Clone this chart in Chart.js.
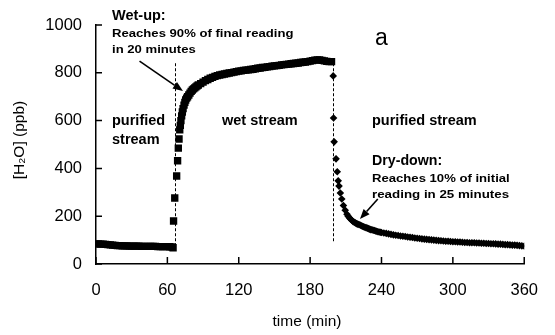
<!DOCTYPE html>
<html>
<head>
<meta charset="utf-8">
<script src="https://cdn.jsdelivr.net/npm/chart.js@4.4.0/dist/chart.umd.min.js"></script>
<style>
  html, body { margin: 0; padding: 0; background: #fff; }
  canvas { display: block; }
</style>
</head>
<body>
<canvas id="chart" width="555" height="335"></canvas>
<script>
// Wet-up run: time (min) and [H2O] (ppb), square markers
const wetTime = [0, 2, 4, 6, 8, 10, 12, 14, 16, 18, 20, 22, 24, 26, 28, 30, 32, 34, 36, 38,
  40, 42, 44, 46, 48, 50, 52, 54, 56, 58, 60, 62, 64, 64.8,
  65.2, 66.2, 67.8, 68.6, 69.2, 69.8, 70.4,
  70.9, 71.4, 72, 72.6, 73.2, 74, 74.7, 75.4, 76.2, 77, 78, 79, 80, 81, 82, 83, 84, 85, 86,
  88, 90, 92, 94, 96, 98, 100, 102, 104, 106, 108, 110, 112, 114, 116, 118, 120, 122, 124, 126,
  128, 130, 132, 134, 136, 138, 140, 142, 144, 146, 148, 150, 152, 154, 156, 158, 160, 162, 164, 166,
  168, 170, 172, 174, 176, 178, 180, 182, 184, 186, 188, 190, 192, 194, 196, 198];
const wetPpb = [84, 84, 83, 83, 82, 81, 80, 79, 78, 77, 77, 76, 76, 76, 75, 75, 75, 75, 75, 74,
  74, 74, 74, 74, 74, 74, 73, 73, 73, 73, 73, 72, 71, 68,
  180, 276, 368, 432, 485, 523, 561,
  580, 600, 620, 636, 650, 665, 676, 686, 694, 700, 707, 715, 722, 728, 733, 737, 741, 745, 749,
  755, 761, 767, 772, 777, 781, 785, 788, 791, 793, 795, 797, 799, 801, 803, 805, 807, 808, 810, 811,
  812, 814, 815, 817, 819, 820, 822, 823, 825, 826, 828, 829, 830, 831, 833, 834, 835, 836, 838, 839,
  840, 841, 843, 844, 845, 847, 849, 851, 853, 854, 854, 852, 850, 848, 847, 847];

// Dry-down run: diamond markers
const dryTime = [199.4, 199.7, 200.2, 201.8, 202.8, 203.6, 204.3, 205.4, 206.6, 208, 209.5, 211,
  212, 213, 214, 215, 216, 217, 218, 219, 220, 221, 222, 223, 224, 225, 226, 227, 228, 229, 230,
  231, 232, 233, 234, 235, 236, 237, 238, 239, 240,
  242, 244, 246, 248, 250, 252, 254, 256, 258, 260, 262, 264, 266, 268, 270, 272, 274, 276, 278, 280,
  282, 284, 286, 288, 290, 292, 294, 296, 298, 300, 302, 304, 306, 308, 310, 312, 314, 316, 318, 320,
  322, 324, 326, 328, 330, 332, 334, 336, 338, 340, 342, 344, 346, 348, 350, 352, 354, 356, 358, 360];
const dryPpb = [787, 611, 511, 440, 386, 348, 326, 297, 272, 245, 225, 208,
  200, 193, 188, 183, 178, 175, 172, 169, 167, 165, 163, 160, 158, 156, 154, 152, 150, 148, 146,
  144, 143, 141, 140, 138, 137, 135, 134, 133, 132,
  130, 128, 126, 124, 122, 120, 119, 117, 116, 115, 113, 112, 111, 109, 108, 107, 105, 104, 103, 102,
  101, 100, 99, 98, 97, 96, 95, 95, 94, 93, 93, 92, 92, 91, 90, 90, 89, 89, 89, 88,
  88, 87, 87, 86, 86, 85, 85, 84, 83, 83, 82, 81, 81, 80, 79, 79, 78, 77, 76, 75];

const xTicks = [0, 60, 120, 180, 240, 300, 360];
const yTicks = [0, 200, 400, 600, 800, 1000];

// gas switch-over times, drawn as dashed lines
const switchTime = [66.5, 199.4];
const switchTop = [840, 840];
const switchBottom = [75, 90];

function pts(xs, ys) {
  return xs.map((x, i) => ({x: x, y: ys[i]}));
}

const FONT = "'Liberation Sans', Arial, sans-serif";

function text(ctx, s, x, y, size, bold, sx) {
  ctx.save();
  ctx.font = (bold ? 'bold ' : '') + size + 'px ' + FONT;
  ctx.translate(x, y);
  ctx.scale(sx || 1, 1);
  ctx.fillText(s, 0, 0);
  ctx.restore();
}

function arrow(ctx, x1, y1, x2, y2) {
  const a = Math.atan2(y2 - y1, x2 - x1);
  const head = 10, w = 4;
  const bx = x2 - head * Math.cos(a), by = y2 - head * Math.sin(a);
  ctx.beginPath();
  ctx.moveTo(x1, y1);
  ctx.lineTo(bx, by);
  ctx.lineWidth = 1.6;
  ctx.stroke();
  ctx.beginPath();
  ctx.moveTo(x2, y2);
  ctx.lineTo(bx - w * Math.sin(a), by + w * Math.cos(a));
  ctx.lineTo(bx + w * Math.sin(a), by - w * Math.cos(a));
  ctx.closePath();
  ctx.fill();
}

const decor = {
  id: 'decor',
  beforeDatasetsDraw(chart) {
    const ctx = chart.ctx, xs = chart.scales.x, ys = chart.scales.y;
    ctx.save();
    ctx.strokeStyle = '#000';
    ctx.lineWidth = 1;
    ctx.setLineDash([3, 2]);
    switchTime.forEach((t, i) => {
      const x = Math.round(xs.getPixelForValue(t)) + 0.5;
      ctx.beginPath();
      ctx.moveTo(x, ys.getPixelForValue(switchTop[i]));
      ctx.lineTo(x, ys.getPixelForValue(switchBottom[i]));
      ctx.stroke();
    });
    ctx.restore();
  },
  afterDraw(chart) {
    const ctx = chart.ctx, xs = chart.scales.x, ys = chart.scales.y;
    const area = chart.chartArea;
    ctx.save();
    ctx.fillStyle = '#000';
    ctx.strokeStyle = '#000';

    // inside tick marks
    ctx.lineWidth = 1.5;
    ctx.beginPath();
    yTicks.forEach(v => {
      const y = ys.getPixelForValue(v);
      ctx.moveTo(area.left, y);
      ctx.lineTo(area.left + 6, y);
    });
    xTicks.forEach(v => {
      const x = xs.getPixelForValue(v);
      ctx.moveTo(x, area.bottom);
      ctx.lineTo(x, area.bottom - 7);
    });
    ctx.stroke();

    // axis titles
    ctx.textAlign = 'center';
    ctx.textBaseline = 'middle';
    ctx.font = '15.5px ' + FONT;
    ctx.fillText('time (min)', 307, 322);
    ctx.save();
    ctx.translate(20, 140);
    ctx.rotate(-Math.PI / 2);
    ctx.fillText('[H\u2082O] (ppb)', 0, 0);
    ctx.restore();

    // annotations
    ctx.textAlign = 'left';
    ctx.textBaseline = 'alphabetic';
    text(ctx, 'Wet-up:', 112, 19.5, 14.5, true);
    text(ctx, 'Reaches 90% of final reading', 112, 36.5, 11.5, true, 1.14);
    text(ctx, 'in 20 minutes', 112, 53, 11.5, true, 1.14);
    text(ctx, 'purified', 112, 125, 14.5, true);
    text(ctx, 'stream', 112, 144, 14.5, true);
    text(ctx, 'wet stream', 222, 125, 14.5, true);
    text(ctx, 'purified stream', 372, 125, 14.5, true);
    text(ctx, 'a', 375, 45, 23, false);
    text(ctx, 'Dry-down:', 372, 165, 14.2, true);
    text(ctx, 'Reaches 10% of initial', 372, 181.5, 11.5, true, 1.14);
    text(ctx, 'reading in 25 minutes', 372, 198, 11.5, true, 1.16);

    arrow(ctx, xs.getPixelForValue(36.6), ys.getPixelForValue(849),
               xs.getPixelForValue(73.1), ys.getPixelForValue(724));
    arrow(ctx, xs.getPixelForValue(236.9), ys.getPixelForValue(272),
               xs.getPixelForValue(221.9), ys.getPixelForValue(188));
    ctx.restore();
  }
};

Chart.defaults.font.family = FONT;
Chart.defaults.color = '#000';

new Chart(document.getElementById('chart'), {
  type: 'scatter',
  data: {
    datasets: [
      {
        data: pts(wetTime, wetPpb),
        pointStyle: 'rect',
        pointRadius: 5.2,
        borderWidth: 0,
        backgroundColor: '#000',
        borderColor: '#000',
        showLine: false
      },
      {
        data: pts(dryTime, dryPpb),
        pointStyle: 'rectRot',
        pointRadius: 3.8,
        borderWidth: 0,
        backgroundColor: '#000',
        borderColor: '#000',
        showLine: false
      }
    ]
  },
  options: {
    responsive: false,
    animation: false,
    events: [],
    layout: { padding: { left: 0, top: 25, right: 26, bottom: 0 } },
    plugins: { legend: { display: false }, tooltip: { enabled: false } },
    scales: {
      x: {
        type: 'linear',
        min: 0, max: 360,
        afterBuildTicks: s => { s.ticks = xTicks.map(v => ({value: v})); },
        ticks: { font: { size: 16.5 }, padding: 17, maxRotation: 0, autoSkip: false,
                 callback: v => String(v) },
        grid: { display: true, drawOnChartArea: false, drawTicks: false },
        border: { display: true, color: '#000', width: 1.5 },
        afterFit: s => { s.height = 71; }
      },
      y: {
        min: 0, max: 1000,
        afterBuildTicks: s => { s.ticks = yTicks.map(v => ({value: v})); },
        ticks: { font: { size: 16.5 }, padding: 14, callback: v => String(v) },
        grid: { display: true, drawOnChartArea: false, drawTicks: false },
        border: { display: true, color: '#000', width: 1.5 },
        afterFit: s => { s.width = 96; }
      }
    }
  },
  plugins: [decor]
});
</script>
</body>
</html>
